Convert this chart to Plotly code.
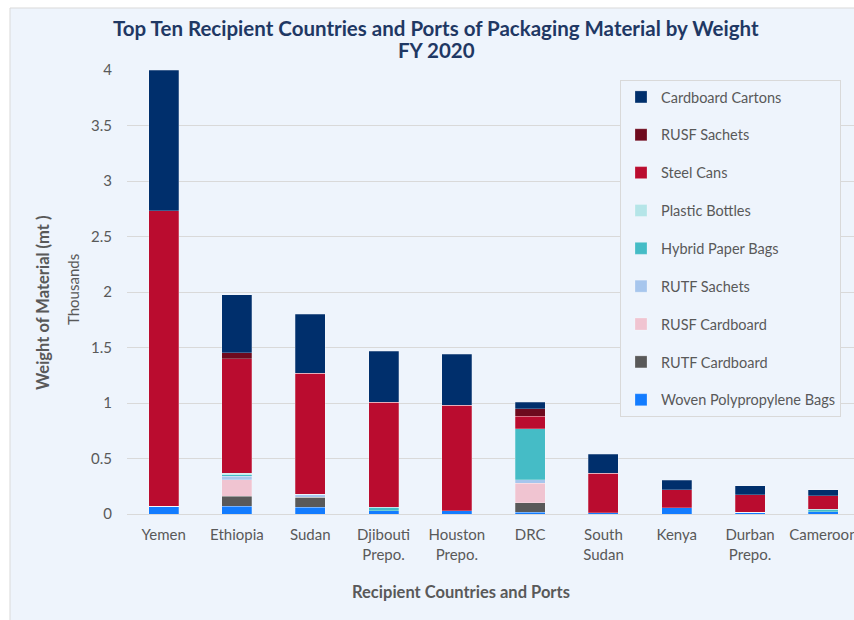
import plotly.graph_objects as go

categories = ["Yemen", "Ethiopia", "Sudan", "Djibouti<br>Prepo.", "Houston<br>Prepo.",
              "DRC", "South<br>Sudan", "Kenya", "Durban<br>Prepo.", "Cameroon"]

woven_bags     = [0.07, 0.07, 0.06, 0.03, 0.03, 0.015, 0.01, 0.055, 0.015, 0.02]
rutf_cardboard = [0, 0.09, 0.09, 0, 0, 0.085, 0, 0, 0, 0]
rusf_cardboard = [0, 0.15, 0, 0, 0, 0.175, 0, 0, 0, 0]
rutf_sachets   = [0, 0.03, 0.03, 0, 0, 0.035, 0, 0, 0, 0]
hybrid_bags    = [0, 0.015, 0, 0.03, 0, 0.46, 0, 0, 0, 0.025]
plastic_bottles= [0, 0.01, 0, 0, 0, 0, 0, 0, 0, 0]
steel_cans     = [2.66, 1.035, 1.09, 0.945, 0.95, 0.11, 0.355, 0.165, 0.16, 0.12]
rusf_sachets   = [0, 0.055, 0, 0, 0, 0.07, 0, 0, 0, 0]
cartons        = [1.27, 0.52, 0.53, 0.46, 0.46, 0.055, 0.175, 0.085, 0.08, 0.055]

y_ticks = [0, 0.5, 1, 1.5, 2, 2.5, 3, 3.5, 4]
y_tick_labels = ["0", "0.5", "1", "1.5", "2", "2.5", "3", "3.5", "4"]

series = [
    ("Woven Polypropylene Bags", woven_bags, "#137CFF"),
    ("RUTF Cardboard", rutf_cardboard, "#595959"),
    ("RUSF Cardboard", rusf_cardboard, "#F0C4D1"),
    ("RUTF Sachets", rutf_sachets, "#A7C6ED"),
    ("Hybrid Paper Bags", hybrid_bags, "#45BCC6"),
    ("Plastic Bottles", plastic_bottles, "#B5E5E8"),
    ("Steel Cans", steel_cans, "#BA0C2F"),
    ("RUSF Sachets", rusf_sachets, "#6E0A1E"),
    ("Cardboard Cartons", cartons, "#002F6C"),
]

FONT = "Lato, 'Open Sans', sans-serif"
GRAY = "#595959"
BG = "#EEF4FC"
NAVY = "#1F3864"

fig = go.Figure()
for i, (name, vals, color) in enumerate(series):
    fig.add_trace(go.Bar(
        x=categories, y=vals, name=name, legendgroup=name,
        legendrank=100 - i,
        marker=dict(color=color, line=dict(color="rgba(255,255,255,0.4)", width=0.6)),
    ))

W, H = 854, 620
L, R, T, B = 127, 0, 70, 106
pw, ph = W - L - R, H - T - B

def px_x(p):
    return (p - L) / pw

def px_y(p):
    return (H - B - p) / ph

fig.update_layout(
    width=W, height=H,
    margin=dict(l=L, r=R, t=T, b=B, autoexpand=False),
    barmode="stack",
    bargap=0.59,
    paper_bgcolor="white",
    plot_bgcolor="rgba(0,0,0,0)",
    font=dict(family=FONT, color=GRAY, size=15),
    xaxis=dict(
        range=[-0.5, 9.418],
        showgrid=False, showline=False, ticks="",
        ticklabelstandoff=10,
        tickfont=dict(size=15, color=GRAY, family=FONT),
    ),
    yaxis=dict(
        range=[0, 4], tickvals=y_ticks, ticktext=y_tick_labels,
        showgrid=True, gridcolor="#D9D9D9", gridwidth=1,
        zeroline=True, zerolinecolor="#D9D9D9", zerolinewidth=1,
        showline=False, ticks="", ticklabelstandoff=14,
        tickfont=dict(size=15, color=GRAY, family=FONT),
    ),
    legend=dict(
        x=px_x(620), xanchor="left", y=px_y(80), yanchor="top",
        bgcolor=BG, bordercolor="#D9D9D9", borderwidth=1,
        traceorder="grouped", tracegroupgap=16,
        font=dict(size=14.5, color=GRAY, family=FONT),
    ),
    shapes=[dict(
        type="rect", xref="paper", yref="paper",
        x0=px_x(10), x1=1.2, y0=-0.5, y1=px_y(8),
        fillcolor=BG, line=dict(color="#D9D9D9", width=1), layer="below",
    )],
    annotations=[
        dict(text="<b>Top Ten Recipient Countries and Ports of Packaging Material by Weight</b>",
             xref="paper", yref="paper", x=px_x(436), y=px_y(28), showarrow=False,
             xanchor="center", yanchor="middle",
             font=dict(size=20.5, color=NAVY, family=FONT)),
        dict(text="<b>FY 2020</b>",
             xref="paper", yref="paper", x=px_x(436), y=px_y(50), showarrow=False,
             xanchor="center", yanchor="middle",
             font=dict(size=20.5, color=NAVY, family=FONT)),
        dict(text="<b>Weight of Material (mt )</b>", xref="paper", yref="paper",
             x=px_x(43), y=px_y(303), textangle=-90, showarrow=False,
             xanchor="center", yanchor="middle",
             font=dict(size=16.5, color=GRAY, family=FONT)),
        dict(text="Thousands", xref="paper", yref="paper",
             x=px_x(73), y=px_y(290), textangle=-90, showarrow=False,
             xanchor="center", yanchor="middle",
             font=dict(size=15, color=GRAY, family=FONT)),
        dict(text="<b>Recipient Countries and Ports</b>", xref="paper", yref="paper",
             x=px_x(461), y=px_y(592), showarrow=False,
             xanchor="center", yanchor="middle",
             font=dict(size=16.5, color=GRAY, family=FONT)),
    ],
)

fig.write_html("out.html", config={"displayModeBar": False},
               post_script="document.body.style.margin='0';")
